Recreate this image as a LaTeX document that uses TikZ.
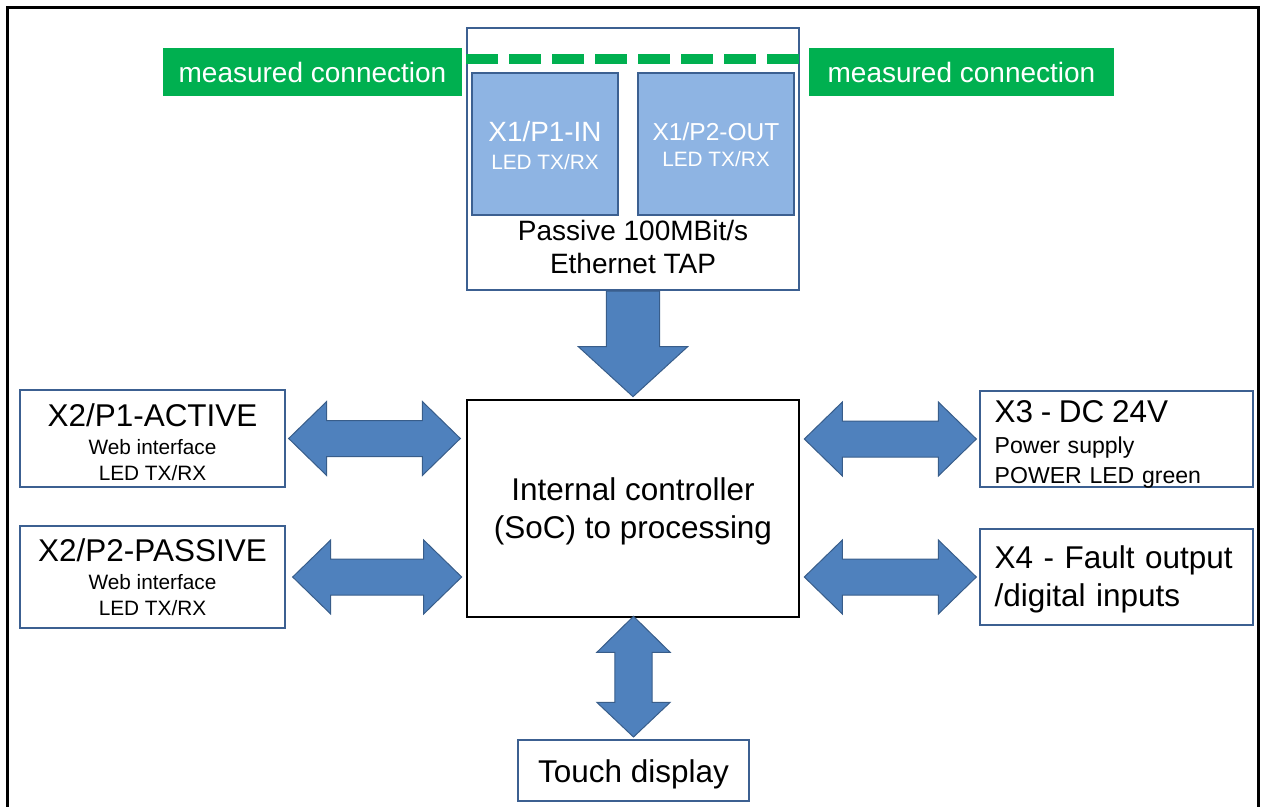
\documentclass[tikz,border=0pt]{standalone}
\usepackage{fontspec}
\setmainfont{Liberation Sans}
\usetikzlibrary{positioning,calc}
\definecolor{edgeblue}{RGB}{60,96,145}
\definecolor{arrowblue}{RGB}{79,129,189}
\definecolor{arrowedge}{RGB}{56,93,138}
\definecolor{portblue}{RGB}{142,180,227}
\definecolor{measgreen}{RGB}{0,176,80}
\newcommand{\bigtxt}{\fontsize{23.6pt}{28pt}\selectfont}
\newcommand{\smalltxt}{\fontsize{15.6pt}{20pt}\selectfont}

\begin{document}
\begin{tikzpicture}[
  x=0.75pt, y=-0.75pt,
  box/.style={draw=edgeblue, line width=1.5pt, fill=white, inner sep=0pt,
    align=center, font=\smalltxt},
  port/.style={box, fill=portblue, text=white},
  sidebox/.style={box, align=left, inner xsep=11pt, text width=182.75pt,
    minimum width=204.75pt, text height=0pt},
  ctrl/.style={draw=black, line width=2pt, fill=white, align=center,
    inner sep=0pt, font=\bigtxt},
  meas/.style={fill=measgreen, text=white, inner sep=0pt,
    font=\fontsize{21pt}{25pt}\selectfont, minimum height=36pt},
  measline/.style={measgreen, line width=7.5pt, dash pattern=on 24pt off 8.25pt},
  blockarrow/.style={draw=arrowedge, fill=arrowblue, line width=0.75pt},
  hbiarrow/.style={blockarrow, to path={let \p1=(\tikztostart), \p2=(\tikztotarget) in
    (\x1,\y1) -- (\x1+28.5pt,\y1+27.75pt) -- (\x1+28.5pt,\y1+13.5pt)
    -- (\x2-28.5pt,\y1+13.5pt) -- (\x2-28.5pt,\y1+27.75pt) -- (\x2,\y1)
    -- (\x2-28.5pt,\y1-27.75pt) -- (\x2-28.5pt,\y1-13.5pt)
    -- (\x1+28.5pt,\y1-13.5pt) -- (\x1+28.5pt,\y1-27.75pt) -- cycle}},
  vbiarrow/.style={blockarrow, to path={let \p1=(\tikztostart), \p2=(\tikztotarget) in
    (\x1,\y1) -- (\x1+27.5pt,\y1-27pt) -- (\x1+14pt,\y1-27pt)
    -- (\x1+14pt,\y2+26pt) -- (\x1+27.5pt,\y2+26pt) -- (\x1,\y2)
    -- (\x1-27.5pt,\y2+26pt) -- (\x1-14pt,\y2+26pt)
    -- (\x1-14pt,\y1-27pt) -- (\x1-27.5pt,\y1-27pt) -- cycle}},
  downarrow/.style={blockarrow, to path={let \p1=(\tikztostart), \p2=(\tikztotarget) in
    (\x1-20pt,\y1) -- (\x1-20pt,\y2+37.5pt) -- (\x1-41pt,\y2+37.5pt) -- (\x1,\y2)
    -- (\x1+41pt,\y2+37.5pt) -- (\x1+20pt,\y2+37.5pt) -- (\x1+20pt,\y1) -- cycle}}
]
  \useasboundingbox (0,0) rectangle (1261,807);
  \draw[line width=2.25pt] (7,807) -- (7,7) -- (1258,7) -- (1258,807);

  % ethernet TAP with its two ports
  \node[box, minimum width=249pt, minimum height=196.5pt] (tap) at (633,159) {};
  \draw[measline] ([yshift=-24pt]tap.north west) -- ([yshift=-24pt]tap.north east);
  \node[port, minimum width=109.5pt, minimum height=106.5pt, text height=38pt, text depth=0pt]
    (in) at (545,144) {{\fontsize{20.9pt}{25pt}\selectfont X1/P1-IN}\\[0.7pt]LED TX/RX};
  \node[port, minimum width=117pt, minimum height=106.5pt, text height=34pt, text depth=0pt]
    (out) at (716,144) {{\fontsize{18.4pt}{22pt}\selectfont X1/P2-OUT}\\[-0.5pt]LED TX/RX};
  \node[align=center, font=\fontsize{21pt}{24.75pt}\selectfont] (taptext) at (633,247)
    {Passive 100MBit/s\\Ethernet TAP};

  % green labels
  \node[meas, minimum width=224.25pt] (measl) at (312.5,72) {measured connection};
  \node[meas, minimum width=228.75pt] (measr) at (961.5,72) {measured connection};

  % controller and the interfaces round it
  \node[ctrl, minimum width=249pt, minimum height=162.75pt, text height=44.7pt, text depth=0pt]
    (soc) at (633,508.5) {Internal controller\\(SoC) to processing};
  \node[box, minimum width=198.75pt, minimum height=72.75pt, text height=63.3pt, text depth=0pt]
    (act) at (152.5,438.5) {{\bigtxt X2/P1-ACTIVE}\\[0.5pt]Web interface\\LED TX/RX};
  \node[box, minimum width=198.75pt, minimum height=76.5pt, text height=58pt, text depth=0pt]
    (pas) at (152.5,577) {{\bigtxt X2/P2-PASSIVE}\\[0.5pt]Web interface\\LED TX/RX};
  \node[sidebox, minimum height=72pt, text depth=25pt,
    font=\fontsize{17.3pt}{22.5pt}\selectfont] (dc) at (1116.5,439)
    {{\bigtxt X3 - DC 24V}\\[0.75pt]Power supply\\POWER LED green};
  \node[sidebox, minimum height=72pt, text depth=13pt, font=\bigtxt] (flt) at (1116.5,577)
    {X4 - Fault output\\[0.8pt]/digital inputs};
  \node[box, minimum width=173.25pt, minimum height=45.75pt, font=\bigtxt,
    text height=17.25pt, text depth=0pt] (touch) at (633.5,770.5)
    {Touch display};

  % block arrows
  \draw[downarrow] (tap.south) to ([yshift=1.5pt]soc.north);
  \draw[hbiarrow] ([xshift=2pt]act.east) to ([xshift=-4pt]soc.west |- act.east);
  \draw[hbiarrow] ([xshift=5pt]pas.east) to ([xshift=-3pt]soc.west |- pas.east);
  \draw[hbiarrow] ([xshift=3pt]soc.east |- dc.west) to ([xshift=-2pt]dc.west);
  \draw[hbiarrow] ([xshift=3pt]soc.east |- flt.west) to ([xshift=-2pt]flt.west);
  \draw[vbiarrow] ([yshift=1.5pt]soc.south -| touch.north) to ([yshift=1.5pt]touch.north);
\end{tikzpicture}
\end{document}
